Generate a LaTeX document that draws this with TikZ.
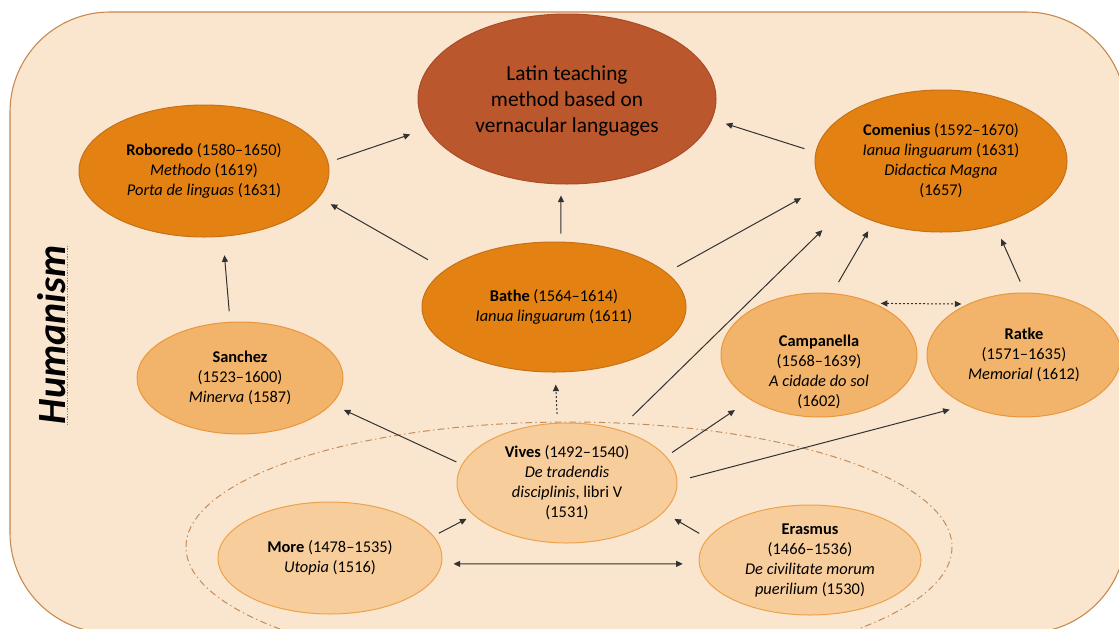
\documentclass[tikz,border=0pt]{standalone}
\usepackage{fontspec}
\setmainfont{Carlito}
\usetikzlibrary{arrows.meta,shapes.geometric}
\definecolor{bgfill}{RGB}{250,230,207}
\definecolor{bgline}{RGB}{198,136,74}
\definecolor{latfill}{RGB}{187,87,44}
\definecolor{latline}{RGB}{168,76,40}
\definecolor{dkfill}{RGB}{227,130,18}
\definecolor{dkline}{RGB}{198,112,24}
\definecolor{mdfill}{RGB}{242,180,106}
\definecolor{mdline}{RGB}{234,150,60}
\definecolor{ltfill}{RGB}{247,205,156}
\definecolor{ltline}{RGB}{236,162,76}
\definecolor{arrgray}{RGB}{50,50,50}
\definecolor{dashcol}{RGB}{196,140,90}
\begin{document}
\begin{tikzpicture}[x=0.75pt,y=-0.75pt,
  ell/.style={ellipse, inner sep=0pt, align=center, line width=0.75pt, text=black,
    font=\fontsize{12.3}{15}\selectfont},
  darkell/.style={ell, fill=dkfill, draw=dkline},
  midell/.style={ell, fill=mdfill, draw=mdline},
  lightell/.style={ell, fill=ltfill, draw=ltline},
  arr/.style={draw=arrgray, line width=0.75pt, -{Triangle[length=5pt,width=4.5pt]}},
  dblarr/.style={draw=arrgray, line width=0.75pt, {Triangle[length=5pt,width=4.5pt]}-{Triangle[length=5pt,width=4.5pt]}},
  dotarr/.style={arr, dash pattern=on 1.5pt off 1.5pt},
  dotdbl/.style={dblarr, dash pattern=on 1.5pt off 1.5pt},
  txt/.style={inner sep=0pt, align=center, text=black, font=\fontsize{12.3}{15}\selectfont}
]
\useasboundingbox (0,0) rectangle (1119,628);
\clip (0,0) rectangle (1119,628);
\fill[white] (0,0) rectangle (1119,628);
\draw[draw=bgline, line width=0.8pt, fill=bgfill, rounded corners=75pt] (10,12) rectangle (1126,633);

% Humanism label with spell-check mark
\node[rotate=90, anchor=base, inner sep=0pt, font=\fontsize{30}{34}\selectfont\bfseries\itshape] (hum) at (65,335) {Humanism};
\draw[red!70, line width=0.6pt, dash pattern=on 1pt off 1pt] ([xshift=1.5pt]hum.base east) -- ([xshift=1.5pt]hum.base west);

% dash-dot group ellipse
\draw[dashcol, line width=0.75pt, dash pattern=on 5pt off 2.5pt on 1pt off 2.5pt] (569,547) ellipse [x radius=383, y radius=125];

% nodes
\node[ell, fill=latfill, draw=latline, minimum width=223.5pt, minimum height=127.5pt] (lat) at (567,99) {};
\node[inner sep=0pt, align=center, text=black, font=\fontsize{16}{19.5}\selectfont] (lattxt) at (567,101)
  {Latin teaching\\method based on\\vernacular languages};
\node[darkell, minimum width=187.5pt, minimum height=99pt] (rob) at (204,171)
  {\textbf{Roboredo} (1580–1650)\\\textit{Methodo} (1619)\\\textit{Porta de linguas} (1631)};
\node[darkell, minimum width=189pt, minimum height=106.5pt] (com) at (941,161)
  {\textbf{Comenius} (1592–1670)\\\textit{Ianua linguarum} (1631)\\\textit{Didactica Magna}\\(1657)};
\node[darkell, minimum width=198pt, minimum height=97.5pt] (bat) at (554,307)
  {\textbf{Bathe} (1564–1614)\\\textit{Ianua linguarum} (1611)};
\node[midell, minimum width=154.5pt, minimum height=84pt] (san) at (240,378)
  {\textbf{Sanchez}\\(1523–1600)\\\textit{Minerva} (1587)};
\node[midell, minimum width=147pt, minimum height=93pt] (cam) at (819,355) {};
\node[txt] (camtxt) at (819,372) {\textbf{Campanella}\\(1568–1639)\\\textit{A cidade do sol}\\(1602)};
\node[midell, minimum width=145.5pt, minimum height=93pt] (rat) at (1024,355)
  {\textbf{Ratke}\\(1571–1635)\\\textit{Memorial} (1612)};
\node[lightell, minimum width=165pt, minimum height=90pt] (viv) at (567,483)
  {\textbf{Vives} (1492–1540)\\\textit{De tradendis}\\\textit{disciplinis}, libri V\\(1531)};
\node[lightell, minimum width=168pt, minimum height=84pt] (mor) at (330,558)
  {\textbf{More} (1478–1535)\\\textit{Utopia} (1516)};
\node[lightell, minimum width=166.5pt, minimum height=82.5pt] (era) at (810,560)
  {\textbf{Erasmus}\\(1466–1536)\\\textit{De civilitate morum}\\\textit{puerilium} (1530)};

% connectors
\draw[arr, shorten <=6.75pt, shorten >=13.1pt] (rob.4) -- (lat.192);
\draw[arr, shorten <=8.7pt, shorten >=10.7pt] (com.176) -- (lat.352);
\draw[arr, shorten <=6pt, shorten >=8.25pt] (bat.84.5) -- (lat.266.4);
\draw[arr, shorten <=15pt, shorten >=10pt] (bat.161) -- (rob.347);
\draw[arr, shorten <=8.9pt, shorten >=18.5pt] (bat.17.7) -- (com.192.8);
\draw[arr, shorten <=7.9pt, shorten >=13.9pt] (san.100) -- (rob.286);
\draw[arr, shorten <=4.5pt, shorten >=10.1pt] (viv.170) -- (san.344);
\draw[dotarr, shorten <=6.5pt, shorten >=9pt] (viv.99) -- (bat.271.5);
\draw[arr, shorten <=14.5pt, shorten >=24pt] (viv.46) -- (com.206);
\draw[arr, shorten <=5.25pt, shorten >=13.8pt] (viv.15) -- (cam.213.5);
\draw[arr, shorten <=9.75pt, shorten >=12.75pt] (viv.1.4) -- (rat.221);
\draw[arr, shorten <=4.5pt, shorten >=5.85pt] (mor.12) -- (viv.199);
\draw[arr, shorten <=7.2pt, shorten >=9.5pt] (era.168.4) -- (viv.343);
\draw[dblarr, shorten <=8.7pt, shorten >=12pt] (mor.357) -- (era.182);
\draw[arr, shorten <=9.6pt, shorten >=8.25pt] (cam.78.5) -- (com.222.6);
\draw[arr, shorten <=9pt, shorten >=10.9pt] (rat.89) -- (com.310.5);
\draw[dotdbl, shorten <=4.7pt, shorten >=4.5pt] (cam.43.5) -- (rat.138.5);
\end{tikzpicture}
\end{document}
